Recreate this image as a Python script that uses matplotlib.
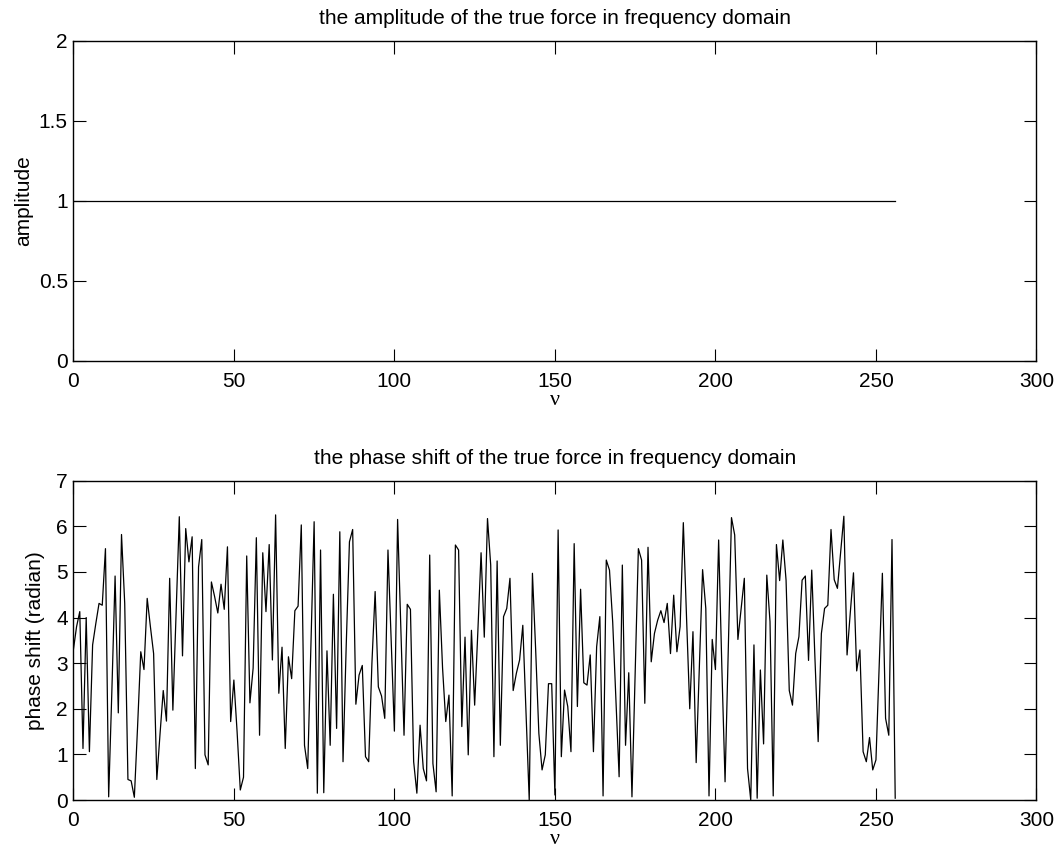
import numpy as np
import matplotlib
matplotlib.use('Agg')
import matplotlib.pyplot as plt

# frequency index and the values
nu = np.arange(0, 257)
amplitude = np.ones(257)
phase = [3.29, 3.8, 4.13, 1.13, 4.0, 1.06, 3.4, 3.87, 4.31, 4.27,
         5.51, 0.07, 2.4, 4.91, 1.91, 5.82, 4.31, 0.45, 0.42, 0.06,
         1.6, 3.25, 2.86, 4.42, 3.8, 3.21, 0.45, 1.45, 2.4, 1.73,
         4.86, 1.97, 4.1, 6.21, 3.16, 5.95, 5.22, 5.77, 0.69, 5.11,
         5.71, 0.99, 0.77, 4.78, 4.46, 4.1, 4.73, 4.18, 5.55, 1.72,
         2.63, 1.5, 0.22, 0.5, 5.35, 2.13, 2.89, 5.75, 1.42, 5.42,
         4.13, 5.6, 3.07, 6.25, 2.34, 3.35, 1.13, 3.14, 2.66, 4.15,
         4.25, 6.03, 1.2, 0.69, 3.4, 6.1, 0.15, 5.48, 0.16, 3.27,
         1.2, 4.51, 1.57, 5.88, 0.84, 3.4, 5.66, 5.93, 2.1, 2.74,
         2.95, 0.95, 0.84, 3.0, 4.57, 2.48, 2.28, 1.79, 5.48, 3.5,
         1.51, 6.15, 3.8, 1.42, 4.29, 4.18, 0.84, 0.15, 1.64, 0.69,
         0.42, 5.37, 0.8, 0.18, 4.6, 2.9, 1.72, 2.3, 0.09, 5.59,
         5.48, 1.61, 3.57, 0.99, 3.72, 2.08, 3.7, 5.42, 3.57, 6.17,
         5.15, 0.95, 5.24, 1.2, 4.02, 4.2, 4.86, 2.4, 2.78, 3.07,
         3.83, 1.9, 0.0, 4.97, 3.3, 1.46, 0.66, 0.99, 2.55, 2.55,
         0.11, 5.92, 0.95, 2.41, 2.05, 1.06, 5.62, 2.05, 4.62, 2.57,
         2.52, 3.18, 1.06, 3.36, 4.02, 0.09, 5.26, 5.04, 3.9, 2.2,
         0.51, 5.15, 1.2, 2.79, 0.07, 2.8, 5.51, 5.26, 2.12, 5.54,
         3.03, 3.65, 3.94, 4.15, 3.89, 4.31, 3.21, 4.49, 3.25, 3.8,
         6.08, 4.0, 2.0, 3.69, 0.82, 2.9, 5.05, 4.2, 0.09, 3.52,
         2.86, 5.7, 2.9, 0.4, 3.3, 6.19, 5.81, 3.52, 4.2, 4.86,
         0.69, 0.0, 3.4, 0.04, 2.85, 1.23, 4.93, 3.91, 0.09, 5.6,
         4.81, 5.7, 4.82, 2.4, 2.08, 3.21, 3.58, 4.82, 4.91, 3.06,
         5.04, 3.1, 1.28, 3.65, 4.2, 4.27, 5.93, 4.83, 4.64, 5.44,
         6.22, 3.18, 4.1, 4.98, 2.83, 3.29, 1.06, 0.84, 1.37, 0.66,
         0.88, 2.9, 4.97, 1.79, 1.42, 5.71, 0.04]

xticks = [0, 50, 100, 150, 200, 250, 300]
amp_yticks = [0, 0.5, 1, 1.5, 2]
amp_ylabels = ['0', '0.5', '1', '1.5', '2']
phase_yticks = [0, 1, 2, 3, 4, 5, 6, 7]

plt.rcParams['font.family'] = ['Liberation Sans', 'DejaVu Sans']
plt.rcParams['font.size'] = 15

fig = plt.figure(figsize=(10.6, 8.55), dpi=100)
ax1 = fig.add_axes([0.0692, 0.578, 0.9086, 0.3743])
ax2 = fig.add_axes([0.0692, 0.0643, 0.9086, 0.3735])


def style(ax):
    ax.set_xlim(0, 300)
    ax.set_xticks(xticks)
    ax.tick_params(direction='in', length=9, width=0.8, top=True, right=True,
                   labelsize=15, color='black')
    ax.tick_params(axis='x', pad=8)
    ax.tick_params(axis='y', pad=4)
    for s in ax.spines.values():
        s.set_linewidth(1.0)


ax1.plot(nu, amplitude, color='black', lw=0.9)
style(ax1)
ax1.set_ylim(0, 2)
ax1.set_yticks(amp_yticks)
ax1.set_yticklabels(amp_ylabels)
ax1.set_title('the amplitude of the true force in frequency domain', fontsize=15, pad=12)
ax1.set_ylabel('amplitude', fontsize=15, labelpad=4)
ax1.set_xlabel('ν', fontsize=16, family='Liberation Serif', labelpad=0)

ax2.plot(nu, phase, color='black', lw=0.9)
style(ax2)
ax2.set_ylim(0, 7)
ax2.set_yticks(phase_yticks)
ax2.set_title('the phase shift of the true force in frequency domain', fontsize=15, pad=12)
ax2.set_ylabel('phase shift (radian)', fontsize=15, labelpad=8)
ax2.set_xlabel('ν', fontsize=16, family='Liberation Serif', labelpad=0)

fig.savefig('out.png', dpi=100)
